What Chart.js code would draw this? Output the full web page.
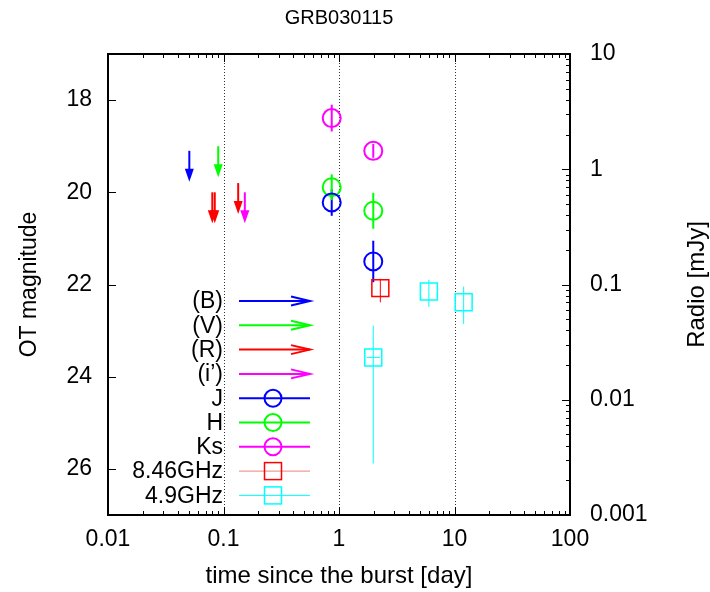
<!DOCTYPE html>
<html>
<head>
<meta charset="utf-8">
<script src="https://cdn.jsdelivr.net/npm/chart.js@4/dist/chart.umd.min.js"></script>
<style>
  body { margin: 0; background: #fff; }
</style>
</head>
<body>
<canvas id="myChart" width="710" height="592"></canvas>
<script>
// optical upper limits (time [day], magnitude)
const bT = [0.0506], bMag = [19.1];
const vT = [0.090], vMag = [19.0];
const rT = [0.080, 0.084, 0.134], rMag = [20.0, 20.0, 19.8];
const iT = [0.153], iMag = [20.0];

// near-IR detections (time, magnitude, error)
const jT = [0.865, 1.98], jMag = [20.22, 21.5], jErr = [0.29, 0.45];
const hT = [0.865, 1.98], hMag = [19.89, 20.4], hErr = [0.28, 0.39];
const ksT = [0.865, 1.98], ksMag = [18.39, 19.1], ksErr = [0.29, 0.15];

// radio (time, flux mJy, low, high)
const r846T = [2.28], r846F = [0.093], r846Lo = [0.070], r846Hi = [0.112];
const r49T = [1.98, 6.0, 12.0], r49F = [0.0233, 0.087, 0.070];
const r49Lo = [0.0028, 0.064, 0.0455], r49Hi = [0.044, 0.110, 0.096];
const r49TLo = [1.74, 6.0, 12.0], r49THi = [2.26, 6.0, 12.0];

const xTicks = [0.01, 0.1, 1, 10, 100];
const magTicks = [18, 20, 22, 24, 26];
const radioTicks = [0.001, 0.01, 0.1, 1, 10];
const dayLines = [0.1, 1, 10];

const FONT = "'Liberation Sans', Arial, sans-serif";
const font23 = { family: FONT, size: 23, weight: 'normal' };
const font24 = { family: FONT, size: 24, weight: 'normal' };

function limitSet(label, t, m, color) {
  return { label: label, kind: 'limit', color: color, yAxisID: 'y',
    data: t.map((x, i) => ({ x: x, y: m[i] })), pointRadius: 0, showLine: false };
}
function magSet(label, t, m, e, color) {
  return { label: label, kind: 'ir', color: color, yAxisID: 'y',
    data: t.map((x, i) => ({ x: x, y: m[i], yLo: m[i] - e[i], yHi: m[i] + e[i] })),
    pointStyle: 'circle', pointRadius: 9, borderWidth: 2, borderColor: color,
    backgroundColor: 'rgba(0,0,0,0)', showLine: false, errWidth: 2 };
}
function radioSet(label, t, f, lo, hi, color, lineColor, tLo, tHi) {
  return { label: label, kind: 'radio', color: color, lineColor: lineColor, yAxisID: 'y2',
    data: t.map((x, i) => ({ x: x, y: f[i], yLo: lo[i], yHi: hi[i],
      xLo: tLo ? tLo[i] : x, xHi: tHi ? tHi[i] : x })),
    pointStyle: 'rect', pointRadius: 12, borderWidth: 1.5, borderColor: color,
    backgroundColor: 'rgba(0,0,0,0)', showLine: false, errWidth: 1 };
}

const datasets = [
  limitSet('(B)', bT, bMag, '#0000ff'),
  limitSet('(V)', vT, vMag, '#00ff00'),
  limitSet('(R)', rT, rMag, '#ff0000'),
  limitSet('(i’)', iT, iMag, '#ff00ff'),
  magSet('J', jT, jMag, jErr, '#0000ff'),
  magSet('H', hT, hMag, hErr, '#00ff00'),
  magSet('Ks', ksT, ksMag, ksErr, '#ff00ff'),
  radioSet('8.46GHz', r846T, r846F, r846Lo, r846Hi, '#ff0000', '#f08080'),
  radioSet('4.9GHz', r49T, r49F, r49Lo, r49Hi, '#00ffff', '#00ffff', r49TLo, r49THi)
];

function line(c, x1, y1, x2, y2) {
  c.beginPath(); c.moveTo(x1, y1); c.lineTo(x2, y2); c.stroke();
}

const extras = {
  id: 'extras',
  beforeDatasetsDraw(chart) {
    const c = chart.ctx, a = chart.chartArea, sx = chart.scales.x;
    c.save();
    // dotted day lines
    c.strokeStyle = '#333'; c.lineWidth = 1; c.setLineDash([1, 2]);
    dayLines.forEach(v => {
      const px = Math.round(sx.getPixelForValue(v)) + 0.5;
      line(c, px, a.top, px, a.bottom);
    });
    c.setLineDash([]);
    // error bars
    chart.data.datasets.forEach(ds => {
      if (ds.kind === 'limit') return;
      const sy = chart.scales[ds.yAxisID];
      c.strokeStyle = ds.color; c.lineWidth = ds.errWidth;
      ds.data.forEach(p => {
        const px = sx.getPixelForValue(p.x);
        line(c, px, sy.getPixelForValue(p.yLo), px, sy.getPixelForValue(p.yHi));
        if (p.xLo !== undefined && p.xLo !== p.xHi) {
          const py = sy.getPixelForValue(p.y);
          line(c, sx.getPixelForValue(p.xLo), py, sx.getPixelForValue(p.xHi), py);
        }
      });
    });
    // upper limit arrows
    chart.data.datasets.forEach(ds => {
      if (ds.kind !== 'limit') return;
      const sy = chart.scales.y;
      ds.data.forEach(p => {
        const px = sx.getPixelForValue(p.x), py = sy.getPixelForValue(p.y);
        c.strokeStyle = ds.color; c.fillStyle = ds.color; c.lineWidth = 2;
        line(c, px, py, px, py + 22);
        c.beginPath(); c.moveTo(px, py + 31); c.lineTo(px - 4.5, py + 18);
        c.lineTo(px + 4.5, py + 18); c.closePath(); c.fill();
      });
    });
    c.restore();
  },
  afterDraw(chart) {
    const c = chart.ctx, a = chart.chartArea;
    const sx = chart.scales.x, sy = chart.scales.y, s2 = chart.scales.y2;
    c.save();
    c.strokeStyle = '#000'; c.lineWidth = 1;
    // x ticks, bottom and top, inward
    for (let d = -2; d <= 2; d++) {
      for (let k = 1; k <= 9; k++) {
        const v = k * Math.pow(10, d);
        if (v > 100.0001) break;
        const len = k === 1 ? 8 : 4;
        const px = Math.round(sx.getPixelForValue(v)) + 0.5;
        line(c, px, a.bottom, px, a.bottom - len);
        line(c, px, a.top, px, a.top + len);
      }
    }
    // left magnitude ticks
    magTicks.forEach(v => {
      const py = Math.round(sy.getPixelForValue(v)) + 0.5;
      line(c, a.left, py, a.left + 8, py);
    });
    // right radio ticks
    for (let d = -3; d <= 1; d++) {
      for (let k = 1; k <= 9; k++) {
        const v = k * Math.pow(10, d);
        if (v > 10.0001) break;
        const len = k === 1 ? 8 : 4;
        const py = Math.round(s2.getPixelForValue(v)) + 0.5;
        line(c, a.right, py, a.right - len, py);
      }
    }
    // frame
    c.lineWidth = 2;
    c.strokeRect(a.left, a.top, a.right - a.left, a.bottom - a.top);

    // legend
    const tx = a.left + 115, x1 = a.left + 131, x2 = a.left + 202, xm = a.left + 165;
    c.font = "23px " + FONT; c.textAlign = 'right'; c.textBaseline = 'middle';
    chart.data.datasets.forEach((ds, i) => {
      const y = a.top + 247 + i * 24.3;
      c.fillStyle = '#000';
      c.fillText(ds.label, tx, y + 1);
      if (ds.kind === 'limit') {
        c.strokeStyle = ds.color; c.lineWidth = 2;
        line(c, x1, y, x2, y);
        c.beginPath(); c.moveTo(x2 - 19, y - 4.5); c.lineTo(x2, y); c.lineTo(x2 - 19, y + 4.5); c.stroke();
      } else if (ds.kind === 'ir') {
        c.strokeStyle = ds.color; c.lineWidth = 2;
        line(c, x1, y, x2, y);
        c.beginPath(); c.arc(xm, y, 8.5, 0, Math.PI * 2); c.stroke();
      } else {
        c.strokeStyle = ds.lineColor; c.lineWidth = 1;
        line(c, x1, y, x2, y);
        c.strokeStyle = ds.color; c.lineWidth = 1.5;
        c.strokeRect(xm - 8.5, y - 8.5, 17, 17);
      }
    });

    // right axis title
    c.fillStyle = '#000'; c.font = "24px " + FONT;
    c.translate(697, (a.top + a.bottom) / 2);
    c.rotate(-Math.PI / 2);
    c.textAlign = 'center'; c.textBaseline = 'middle';
    c.fillText('Radio [mJy]', 0, 0);
    c.restore();
  }
};

const ctx = document.getElementById('myChart').getContext('2d');
const myChart = new Chart(ctx, {
  type: 'scatter',
  data: { datasets: datasets },
  options: {
    responsive: false,
    animation: false,
    layout: { padding: 0 },
    plugins: {
      legend: { display: false },
      tooltip: { enabled: false },
      title: { display: true, fullSize: false, text: 'GRB030115', color: '#000',
        font: { family: FONT, size: 20, weight: 'normal' },
        padding: { top: 6, bottom: 24 } }
    },
    scales: {
      x: {
        type: 'logarithmic', min: 0.01, max: 100,
        afterBuildTicks: s => { s.ticks = xTicks.map(v => ({ value: v })); },
        afterFit: s => { s.height = 77; },
        grid: { display: false, drawTicks: false }, border: { display: false },
        ticks: { color: '#000', font: font23, padding: 11, maxRotation: 0, autoSkip: false,
          callback: v => String(v) },
        title: { display: true, text: 'time since the burst [day]', color: '#000', font: font24,
          padding: { top: 0, bottom: 1 } }
      },
      y: {
        type: 'linear', position: 'left', reverse: true, min: 17, max: 27,
        afterBuildTicks: s => { s.ticks = magTicks.map(v => ({ value: v })); },
        afterFit: s => { s.width = 108; },
        grid: { display: false, drawTicks: false }, border: { display: false },
        ticks: { color: '#000', font: font23, padding: 16 },
        title: { display: true, text: 'OT magnitude', color: '#000', font: font23,
          padding: { top: 16, bottom: 0 } }
      },
      y2: {
        type: 'logarithmic', position: 'right', min: 0.001, max: 10,
        afterBuildTicks: s => { s.ticks = radioTicks.map(v => ({ value: v })); },
        afterFit: s => { s.width = 140; },
        grid: { display: false, drawTicks: false }, border: { display: false },
        ticks: { color: '#000', font: font23, padding: 20, callback: v => String(v) }
      }
    }
  },
  plugins: [extras]
});
</script>
</body>
</html>
